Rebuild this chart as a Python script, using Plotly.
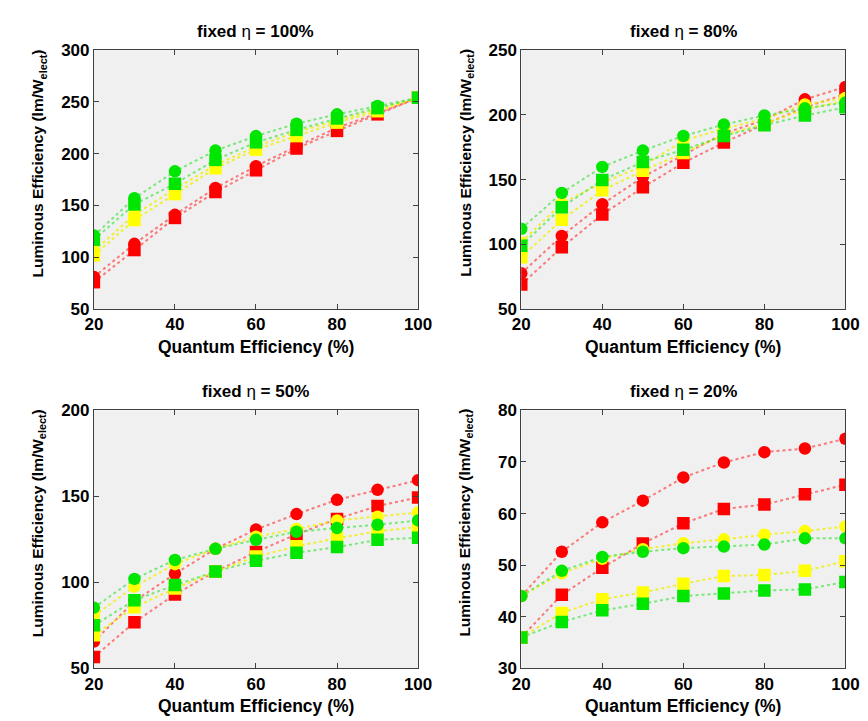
import plotly.graph_objects as go

qe = [20, 30, 40, 50, 60, 70, 80, 90, 100]

# panel 1: fixed eta = 100%
p1_red_c = [81, 113, 141, 167, 188, 207, 225, 239, 254]
p1_red_s = [76, 107, 138, 163, 184, 205, 222, 238, 254]
p1_yel_c = [106, 141, 166, 189, 207, 221, 232, 243, 254]
p1_yel_s = [102, 136, 161, 186, 204, 217, 230, 241, 254]
p1_grn_c = [121, 157, 183, 203, 217, 229, 238, 246, 254]
p1_grn_s = [117, 151, 171, 194, 211, 223, 234, 244, 254]

# panel 2: fixed eta = 80%
p2_red_c = [77.6, 106.5, 131, 152, 169, 185.7, 196, 212, 221.6]
p2_red_s = [69, 97.7, 123, 144, 163, 178.6, 192.7, 205.8, 216]
p2_yel_c = [101.5, 131.7, 147.5, 160.5, 180, 189.4, 197, 208, 213]
p2_yel_s = [90, 119, 141.7, 156.8, 170.6, 184.4, 193, 204.5, 210.8]
p2_grn_c = [112, 139.7, 159.8, 172.4, 183.7, 192.5, 199.5, 205, 209.5]
p2_grn_s = [99, 128.6, 149.7, 163.6, 173, 183.7, 192, 199.5, 205.8]

# panel 3: fixed eta = 50%
p3_red_c = [65.6, 89, 105, 119.5, 130.7, 139.7, 148, 153.8, 159.4]
p3_red_s = [56.6, 76.8, 93, 106.3, 117.7, 127.9, 136.9, 144.4, 149.4]
p3_yel_c = [80.6, 97.5, 110.6, 119.5, 126.5, 131, 136, 138.2, 140.6]
p3_yel_s = [69.3, 85.6, 96.5, 106.3, 115, 121, 125.6, 129.7, 132.2]
p3_grn_c = [85.3, 102, 113, 119.5, 124.7, 129.4, 131.6, 133.5, 136]
p3_grn_s = [75, 89.6, 98.4, 106.3, 112.5, 117.2, 120.5, 124.7, 126]

# panel 4: fixed eta = 20%
p4_red_c = [44, 52.6, 58.3, 62.5, 67, 69.9, 71.9, 72.6, 74.5]
p4_red_s = [36, 44.25, 49.5, 54.2, 58.1, 60.9, 61.75, 63.75, 65.6]
p4_yel_c = [44, 48.4, 51.25, 53.1, 54.25, 55, 55.9, 56.6, 57.5]
p4_yel_s = [36, 40.75, 43.4, 44.7, 46.4, 47.9, 48.1, 48.9, 50.75]
p4_grn_c = [44, 48.9, 51.6, 52.6, 53.3, 53.6, 54, 55.2, 55.2]
p4_grn_s = [36, 39, 41.25, 42.5, 44, 44.5, 45.1, 45.3, 46.75]

panels = [
    ("100%", [50, 300], [50, 100, 150, 200, 250, 300],
     [p1_red_c, p1_red_s, p1_yel_c, p1_yel_s, p1_grn_c, p1_grn_s]),
    ("80%", [50, 250], [50, 100, 150, 200, 250],
     [p2_red_c, p2_red_s, p2_yel_c, p2_yel_s, p2_grn_c, p2_grn_s]),
    ("50%", [50, 200], [50, 100, 150, 200],
     [p3_red_c, p3_red_s, p3_yel_c, p3_yel_s, p3_grn_c, p3_grn_s]),
    ("20%", [30, 80], [30, 40, 50, 60, 70, 80],
     [p4_red_c, p4_red_s, p4_yel_c, p4_yel_s, p4_grn_c, p4_grn_s]),
]

colors = ["#ff0000", "#ff0000", "#ffff00", "#ffff00", "#00e600", "#00e600"]
line_colors = ["rgba(255,70,70,0.7)", "rgba(255,70,70,0.7)",
               "rgba(240,240,0,0.8)", "rgba(240,240,0,0.8)",
               "rgba(70,230,70,0.7)", "rgba(70,230,70,0.7)"]
symbols = ["circle", "square", "circle", "square", "circle", "square"]

W, H = 868, 721
boxes = [(79, 412, 34, 300), (518, 851, 34, 300), (79, 412, 404, 669), (518, 851, 404, 669)]

FONT = "Liberation Sans, Arial, sans-serif"
fig = go.Figure()
layout = dict(width=W, height=H, margin=dict(l=0, r=0, t=0, b=0),
              paper_bgcolor="white", plot_bgcolor="#f0f0f0", showlegend=False,
              annotations=[])

for i, (title, yr, yt, series) in enumerate(panels):
    n = "" if i == 0 else str(i + 1)
    x0, x1, yT, yB = boxes[i]
    for k, s in enumerate(series):
        fig.add_trace(go.Scatter(
            x=qe, y=s, mode="lines+markers",
            xaxis="x" + n, yaxis="y" + n,
            line=dict(color=line_colors[k], width=2, dash="dot"),
            marker=dict(color=colors[k], symbol=symbols[k], size=12.5, line=dict(width=0)),
        ))
    axcommon = dict(showgrid=False, zeroline=False, showline=True, linecolor="#404040",
                    linewidth=1, mirror="ticks", ticks="inside", ticklen=5,
                    tickcolor="#404040",
                    tickfont=dict(family=FONT, size=17, color="black", weight="bold"))
    layout["xaxis" + n] = dict(axcommon, domain=[x0 / W, x1 / W], range=[20, 100],
                               tickvals=[20, 40, 60, 80, 100], anchor="y" + n)
    layout["yaxis" + n] = dict(axcommon, domain=[(H - yB) / H, (H - yT) / H], range=yr,
                               tickvals=yt, anchor="x" + n)
    cx = (x0 + x1) / 2
    layout["annotations"].append(dict(
        text="<b>fixed</b> η <b>= " + title + "</b>",
        x=cx / W, y=(H - (yT - 19)) / H,
        xref="paper", yref="paper", showarrow=False, xanchor="center", yanchor="middle",
        font=dict(family=FONT, size=17, color="black")))
    layout["annotations"].append(dict(
        text="<b>Quantum Efficiency (%)</b>", x=cx / W, y=(H - (yB + 39)) / H,
        xref="paper", yref="paper", showarrow=False, xanchor="center", yanchor="middle",
        font=dict(family=FONT, size=17.5, color="black")))
    layout["annotations"].append(dict(
        text="<b>Luminous Efficiency (lm/W<sub>elect</sub>)</b>",
        x=(x0 - 57) / W, y=(H - ((yT + yB) / 2 - 17)) / H, textangle=-90,
        xref="paper", yref="paper", showarrow=False, xanchor="center", yanchor="middle",
        font=dict(family=FONT, size=15.5, color="black")))

fig.update_layout(**layout)
fig.write_html("out.html")
